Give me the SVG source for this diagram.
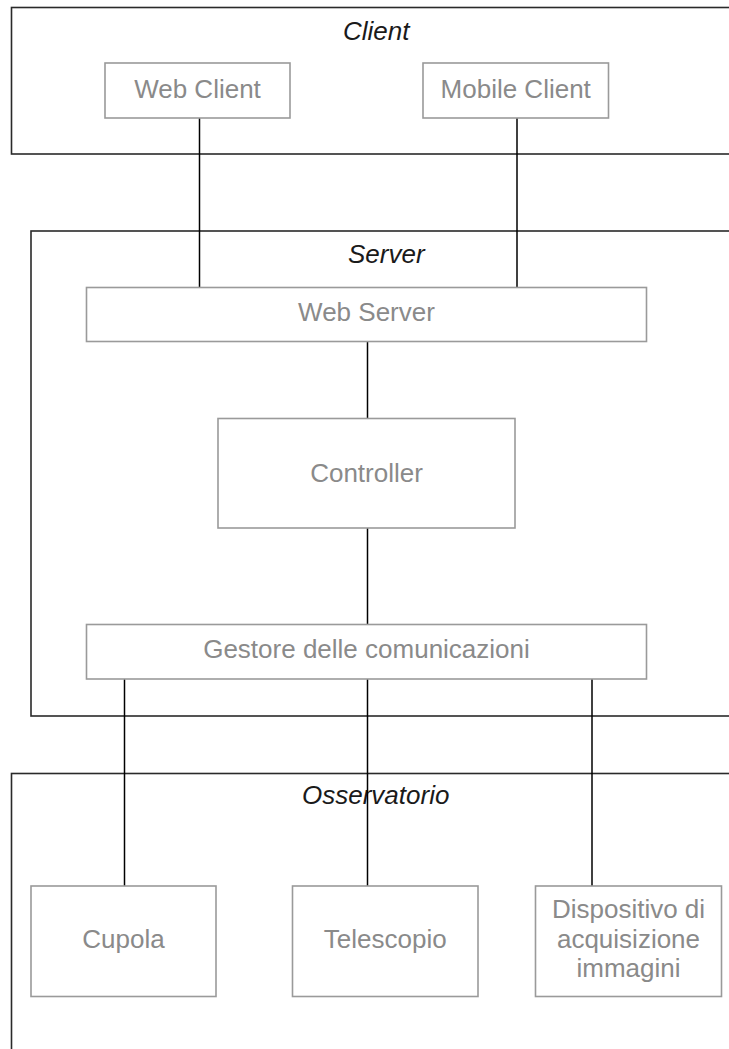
<svg xmlns="http://www.w3.org/2000/svg" width="729" height="1049" viewBox="0 0 729 1049">
<style>
.cont{fill:none;stroke:#2a2a2a;stroke-width:1.6}
.clabel{font-family:"Liberation Sans",Arial,sans-serif;font-size:26px;font-style:italic;fill:#1a1a1a}
.node{fill:#fff;stroke:#9a9a9a;stroke-width:1.6}
.ntext{font-family:"Liberation Sans",Arial,sans-serif;font-size:26px;fill:#8a8a8a;text-anchor:middle}
.conn{stroke:#000;stroke-width:1.5;fill:none}
</style>
<rect width="729" height="1049" fill="#fff"/>
<g id="client-container">
<rect class="cont" x="11.5" y="7.5" width="760" height="146.5"/>
<text class="clabel" x="343" y="40">Client</text>
</g>
<g id="server-container">
<rect class="cont" x="31" y="231" width="740" height="485"/>
<text class="clabel" x="348" y="263">Server</text>
</g>
<g id="osservatorio-container">
<rect class="cont" x="11.5" y="773.5" width="760" height="300"/>
<text class="clabel" x="302" y="804">Osservatorio</text>
</g>
<g id="connectors">
<line class="conn" x1="199.5" y1="118" x2="199.5" y2="288"/>
<line class="conn" x1="517" y1="118" x2="517" y2="288"/>
<line class="conn" x1="367.5" y1="342" x2="367.5" y2="418"/>
<line class="conn" x1="367.5" y1="528" x2="367.5" y2="624.5"/>
<line class="conn" x1="124.5" y1="679" x2="124.5" y2="886"/>
<line class="conn" x1="367.5" y1="679" x2="367.5" y2="886"/>
<line class="conn" x1="592" y1="679" x2="592" y2="886"/>
</g>
<g id="web-client">
<rect class="node" x="105" y="63" width="185" height="55"/>
<text class="ntext" x="197.5" y="97.5">Web Client</text>
</g>
<g id="mobile-client">
<rect class="node" x="423" y="63" width="185.5" height="55"/>
<text class="ntext" x="515.7" y="97.5">Mobile Client</text>
</g>
<g id="web-server">
<rect class="node" x="86.5" y="287.5" width="560" height="54"/>
<text class="ntext" x="366.5" y="320.5">Web Server</text>
</g>
<g id="controller">
<rect class="node" x="218" y="418.5" width="297" height="109.5"/>
<text class="ntext" x="366.5" y="481.5">Controller</text>
</g>
<g id="gestore">
<rect class="node" x="86.5" y="624.5" width="560" height="54.5"/>
<text class="ntext" x="366.5" y="658">Gestore delle comunicazioni</text>
</g>
<g id="cupola">
<rect class="node" x="31" y="886" width="185" height="110.5"/>
<text class="ntext" x="123.5" y="948">Cupola</text>
</g>
<g id="telescopio">
<rect class="node" x="292.5" y="886" width="185.5" height="110.5"/>
<text class="ntext" x="385.3" y="948">Telescopio</text>
</g>
<g id="dispositivo">
<rect class="node" x="535.5" y="886" width="186" height="110.5"/>
<text class="ntext" x="628.5" y="918">Dispositivo di</text>
<text class="ntext" x="628.5" y="948">acquisizione</text>
<text class="ntext" x="628.5" y="977">immagini</text>
</g>
</svg>
